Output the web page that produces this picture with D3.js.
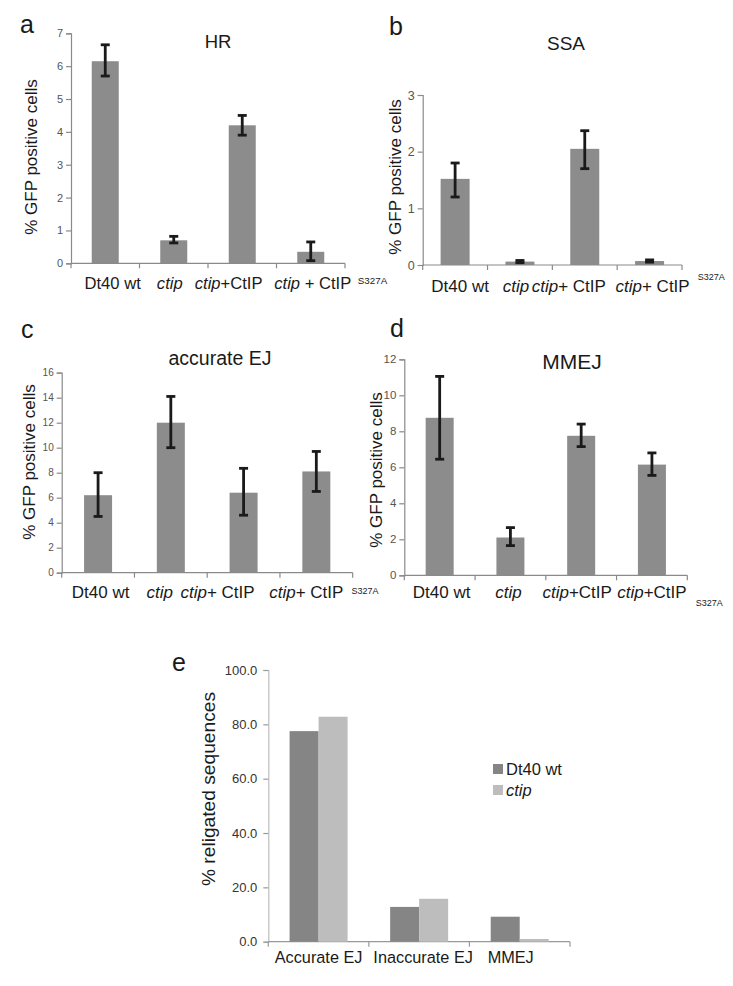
<!DOCTYPE html>
<html>
<head>
<meta charset="utf-8">
<script src="https://cdn.jsdelivr.net/npm/d3@7"></script>
<style>
  html, body { margin: 0; padding: 0; background: #fff; }
  svg { display: block; font-family: "Liberation Sans", Arial, sans-serif; }
</style>
</head>
<body>
<svg id="chart" width="733" height="986"></svg>
<script>
// ---------- DATA ----------
const cellLines = ["Dt40 wt", "ctip", "ctip+CtIP", "ctip+CtIP S327A"];

const hrMean = [6.15, 0.70, 4.20, 0.35];
const hrLow  = [5.70, 0.62, 3.90, 0.08];
const hrHigh = [6.65, 0.82, 4.50, 0.65];
const hrTicks = [0, 1, 2, 3, 4, 5, 6, 7];

const ssaMean = [1.52, 0.06, 2.05, 0.07];
const ssaLow  = [1.20, 0.04, 1.70, 0.05];
const ssaHigh = [1.80, 0.08, 2.37, 0.09];
const ssaTicks = [0, 1, 2, 3];

const ejMean = [6.2, 12.0, 6.4, 8.1];
const ejLow  = [4.5, 10.0, 4.6, 6.5];
const ejHigh = [8.0, 14.1, 8.35, 9.7];
const ejTicks = [0, 2, 4, 6, 8, 10, 12, 14, 16];

const mmejMean = [8.75, 2.10, 7.75, 6.15];
const mmejLow  = [6.45, 1.65, 7.15, 5.55];
const mmejHigh = [11.05, 2.65, 8.40, 6.80];
const mmejTicks = [0, 2, 4, 6, 8, 10, 12];

// label pieces: [text, italic]
const labelsA = [[["Dt40 wt", 0]], [["ctip", 1]], [["ctip", 1], ["+CtIP", 0]], [["ctip", 1], [" + CtIP", 0]]];
const labelsB = [[["Dt40 wt", 0]], [["ctip", 1]], [["ctip", 1], ["+ CtIP", 0]], [["ctip", 1], ["+ CtIP", 0]]];
const labelsD = [[["Dt40 wt", 0]], [["ctip", 1]], [["ctip", 1], ["+CtIP", 0]], [["ctip", 1], ["+CtIP", 0]]];
const mutantSup = "S327A";

const seqCategories = ["Accurate EJ", "Inaccurate EJ", "MMEJ"];
const seqWt   = [77.5, 12.8, 9.2];
const seqCtip = [82.8, 15.8, 1.0];
const seqTicks = [0, 20, 40, 60, 80, 100];
const seqSeries = ["Dt40 wt", "ctip"];

// ---------- DRAW ----------
const svg = d3.select("#chart");
const barColor = "#8c8c8c";
const axisColor = "#8a8a8a";
const tickText = "#555";

function panel(cfg) {
  const g = svg.append("g");
  const x = d3.scaleBand().domain(cellLines).range([cfg.x0, cfg.x1]).padding(0);
  const y = d3.scaleLinear().domain([0, cfg.ticks[cfg.ticks.length - 1]]).range([cfg.y0, cfg.y1]);
  const bw = cfg.barW;

  // y axis
  const ya = g.append("g").attr("transform", `translate(${cfg.x0},0)`)
    .call(d3.axisLeft(y).tickValues(cfg.ticks).tickSize(5).tickPadding(3).tickFormat(d3.format("d")));
  ya.select(".domain").attr("stroke", axisColor).attr("stroke-width", 1.2);
  ya.selectAll(".tick line").attr("stroke", axisColor).attr("stroke-width", 1.2);
  ya.selectAll(".tick text").attr("fill", tickText).attr("font-size", cfg.tickFont)
    .attr("font-family", "'Liberation Sans', Arial, sans-serif");

  // x axis line with boundary ticks
  g.append("line").attr("x1", cfg.x0).attr("x2", cfg.x1).attr("y1", cfg.y0).attr("y2", cfg.y0)
    .attr("stroke", axisColor).attr("stroke-width", 1.2);
  const bounds = cellLines.map(c => x(c)).concat([x(cellLines[cellLines.length - 1]) + x.bandwidth()]);
  g.selectAll(".xt").data(bounds).enter().append("line")
    .attr("x1", d => d).attr("x2", d => d).attr("y1", cfg.y0).attr("y2", cfg.y0 + 5)
    .attr("stroke", axisColor).attr("stroke-width", 1.2);

  // bars
  g.selectAll(".bar").data(cfg.mean).enter().append("rect")
    .attr("x", (d, i) => x(cellLines[i]) + x.bandwidth() / 2 - bw / 2)
    .attr("width", bw)
    .attr("y", d => y(d))
    .attr("height", d => cfg.y0 - y(d))
    .attr("fill", barColor);

  // error bars
  const eg = g.append("g").attr("stroke", "#1a1a1a").attr("stroke-width", 2.8);
  cfg.mean.forEach((m, i) => {
    const cx = x(cellLines[i]) + x.bandwidth() / 2;
    eg.append("line").attr("x1", cx).attr("x2", cx).attr("y1", y(cfg.low[i])).attr("y2", y(cfg.high[i]));
    eg.append("line").attr("x1", cx - 4.5).attr("x2", cx + 4.5).attr("y1", y(cfg.low[i])).attr("y2", y(cfg.low[i]));
    eg.append("line").attr("x1", cx - 4.5).attr("x2", cx + 4.5).attr("y1", y(cfg.high[i])).attr("y2", y(cfg.high[i]));
  });

  // x labels
  cfg.labels.forEach((parts, i) => {
    const cx = x(cellLines[i]) + x.bandwidth() / 2 + cfg.labelDx[i];
    const t = g.append("text").attr("x", cx).attr("y", cfg.labelY)
      .attr("text-anchor", "middle").attr("font-size", cfg.labelFont).attr("fill", "#1a1a1a");
    parts.forEach(p => {
      t.append("tspan").text(p[0]).attr("font-style", p[1] ? "italic" : "normal");
    });
    if (i === cellLines.length - 1) {
      const bb = t.node().getBBox();
      g.append("text").attr("x", bb.x + bb.width + cfg.supGap).attr("y", cfg.labelY + cfg.supDy)
        .attr("font-size", cfg.supFont).attr("fill", "#1a1a1a").text(mutantSup);
    }
  });

  // title
  g.append("text").attr("x", cfg.titleX).attr("y", cfg.titleY).attr("text-anchor", "middle")
    .attr("font-size", cfg.titleFont).attr("fill", "#1a1a1a").text(cfg.title);
  // panel letter
  g.append("text").attr("x", cfg.letterX).attr("y", cfg.letterY)
    .attr("font-size", 25).attr("fill", "#1a1a1a").text(cfg.letter);
  // y label
  g.append("text").attr("transform", `translate(${cfg.ylabX},${cfg.ylabY}) rotate(-90)`)
    .attr("text-anchor", "middle").attr("font-size", 17).attr("fill", "#1a1a1a")
    .text("% GFP positive cells");
}

panel({ x0: 71, x1: 345, y0: 263.3, y1: 33.3, ticks: hrTicks, mean: hrMean, low: hrLow, high: hrHigh,
  barW: 27, tickFont: 11, labels: labelsA, labelFont: 16.6, labelDx: [7.4, -4, -13.6, 2], labelY: 288.7,
  supGap: 6.5, supDy: -4.7, supFont: 9.8,
  title: "HR", titleX: 218, titleY: 48, titleFont: 18.5, letter: "a", letterX: 20, letterY: 33,
  ylabX: 37, ylabY: 157 });

panel({ x0: 422.7, x1: 682, y0: 265, y1: 95, ticks: ssaTicks, mean: ssaMean, low: ssaLow, high: ssaHigh,
  barW: 29, tickFont: 12.5, labels: labelsB, labelFont: 17, labelDx: [5, -4, -16, 3], labelY: 291.5,
  supGap: 8, supDy: -12, supFont: 9,
  title: "SSA", titleX: 566, titleY: 50, titleFont: 19, letter: "b", letterX: 389, letterY: 35,
  ylabX: 401, ylabY: 177 });

panel({ x0: 61.7, x1: 352.7, y0: 572.7, y1: 372.7, ticks: ejTicks, mean: ejMean, low: ejLow, high: ejHigh,
  barW: 28, tickFont: 10, labels: labelsB, labelFont: 17, labelDx: [2.5, -11, -26, -10], labelY: 597.5,
  supGap: 8, supDy: -4, supFont: 9,
  title: "accurate EJ", titleX: 220, titleY: 365, titleFont: 19.5, letter: "c", letterX: 21, letterY: 337.5,
  ylabX: 34.5, ylabY: 462 });

panel({ x0: 404.3, x1: 687.3, y0: 575.3, y1: 359.3, ticks: mmejTicks, mean: mmejMean, low: mmejLow, high: mmejHigh,
  barW: 28, tickFont: 11.5, labels: labelsD, labelFont: 17, labelDx: [2, -2, -4, 0], labelY: 597.5,
  supGap: 9, supDy: 8, supFont: 9,
  title: "MMEJ", titleX: 572, titleY: 369, titleFont: 21, letter: "d", letterX: 390, letterY: 337,
  ylabX: 382, ylabY: 470 });

// ---------- Panel e ----------
(function () {
  const g = svg.append("g");
  const x0 = 268.3, x1 = 570, y0 = 941.7, y1 = 670;
  const x = d3.scaleBand().domain(seqCategories).range([x0, x1]).padding(0);
  const xs = d3.scaleBand().domain(seqSeries).range([0, 58]);
  const y = d3.scaleLinear().domain([0, 100]).range([y0, y1]);
  const color = d3.scaleOrdinal().domain(seqSeries).range(["#858585", "#bdbdbd"]);

  const ya = g.append("g").attr("transform", `translate(${x0},0)`)
    .call(d3.axisLeft(y).tickValues(seqTicks).tickSize(5).tickPadding(6).tickFormat(d3.format(".1f")));
  ya.select(".domain").attr("stroke", "#bdbdbd").attr("stroke-width", 1.2);
  ya.selectAll(".tick line").attr("stroke", "#999").attr("stroke-width", 1.2);
  ya.selectAll(".tick text").attr("fill", "#333").attr("font-size", 13)
    .attr("font-family", "'Liberation Sans', Arial, sans-serif");

  g.append("line").attr("x1", x0).attr("x2", x1).attr("y1", y0).attr("y2", y0)
    .attr("stroke", "#999").attr("stroke-width", 1.2);
  const bounds = seqCategories.map(c => x(c)).concat([x1]);
  g.selectAll(".xt").data(bounds).enter().append("line")
    .attr("x1", d => d).attr("x2", d => d).attr("y1", y0).attr("y2", y0 + 5)
    .attr("stroke", "#999").attr("stroke-width", 1.2);

  const rows = seqCategories.map((c, i) => ({ c, vals: [seqWt[i], seqCtip[i]] }));
  const off = x.bandwidth() / 2 - 29;
  rows.forEach(r => {
    r.vals.forEach((v, j) => {
      g.append("rect")
        .attr("x", x(r.c) + off + xs(seqSeries[j]))
        .attr("width", xs.bandwidth())
        .attr("y", y(v)).attr("height", y0 - y(v))
        .attr("fill", color(seqSeries[j]));
    });
  });

  const labelDx = [0, 4, -9];
  seqCategories.forEach((c, i) => {
    g.append("text").attr("x", x(c) + x.bandwidth() / 2 + labelDx[i]).attr("y", 963)
      .attr("text-anchor", "middle").attr("font-size", 16.3).attr("fill", "#1a1a1a").text(c);
  });

  // legend
  seqSeries.forEach((s, j) => {
    g.append("rect").attr("x", 493).attr("y", 764 + j * 21).attr("width", 10).attr("height", 10)
      .attr("fill", color(s));
    g.append("text").attr("x", 506).attr("y", 774.5 + j * 21).attr("font-size", 16.5)
      .attr("font-style", j === 1 ? "italic" : "normal").attr("fill", "#1a1a1a").text(s);
  });

  g.append("text").attr("transform", `translate(215,789) rotate(-90)`)
    .attr("text-anchor", "middle").attr("font-size", 19.2).attr("fill", "#1a1a1a")
    .text("% religated sequences");
  g.append("text").attr("x", 172).attr("y", 671).attr("font-size", 25).attr("fill", "#1a1a1a").text("e");
})();
</script>
</body>
</html>
